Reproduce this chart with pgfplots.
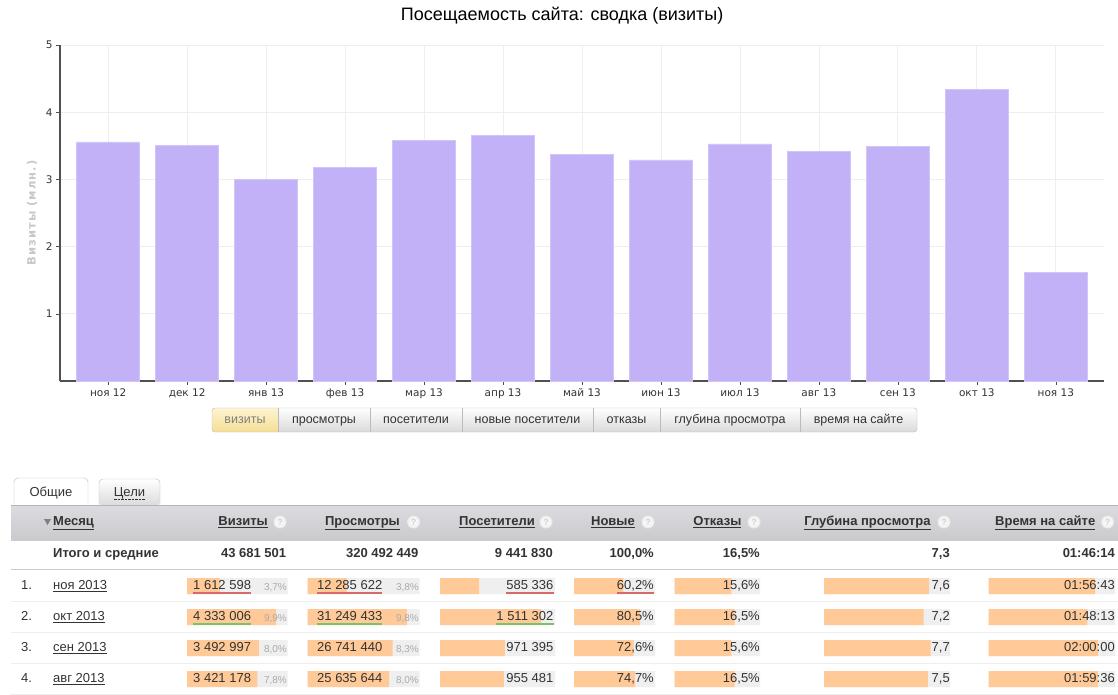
\documentclass[border=0pt]{standalone}
\usepackage{pgfplots}
\pgfplotsset{compat=1.18}
\usepackage{fontspec}
\setmainfont{Liberation Sans}
\newfontfamily\dejavu{DejaVu Sans}
\newfontfamily\dejavuwide[LetterSpace=9]{DejaVu Sans}

\definecolor{barc}{HTML}{C3B1F8}
\definecolor{baredge}{HTML}{D2C5FA}
\definecolor{gridc}{HTML}{EEEEEE}
\definecolor{axisc}{HTML}{505050}
\definecolor{tickc}{HTML}{333333}
\definecolor{ylab}{HTML}{C8C8C8}
\definecolor{txt}{HTML}{333333}
\definecolor{btnline}{HTML}{BBBBBB}
\definecolor{btnbot}{HTML}{DADADA}
\definecolor{seltop}{HTML}{FDF4D2}
\definecolor{selbot}{HTML}{F5DE94}
\definecolor{hdrtop}{HTML}{DCDCE0}
\definecolor{hdrbot}{HTML}{CACACE}
\definecolor{hdrline}{HTML}{B4B4BC}
\definecolor{cellbg}{HTML}{EFEFEF}
\definecolor{cellor}{HTML}{FFCA98}
\definecolor{redu}{HTML}{D66A6A}
\definecolor{greenu}{HTML}{7CC26C}
\definecolor{pctc}{HTML}{AAAAAA}

\newcommand\fs[1]{\fontsize{#1bp}{#1bp}\selectfont}

\pgfplotsset{
  cellax/.style={anchor=north west, scale only axis, height=124bp,
    xbar, bar shift=0pt, bar width=16bp, xmin=0, ymin=0.5, ymax=4.5,
    y dir=reverse, hide axis, clip=false,
    every axis plot/.append style={draw=none}},
}
% x0, width, xmax, values of rows 1-4
\newcommand\cellaxis[4]{%
\begin{axis}[cellax, at={(#1bp,-570.5bp)}, width=#2bp, xmax=#3]
\addplot[fill=cellbg] coordinates {(#3,1) (#3,2) (#3,3) (#3,4)};
\addplot[fill=cellor] coordinates {#4};
\end{axis}}

\begin{document}
\begin{tikzpicture}
\fill[white] (0,0) rectangle (1118bp,-695bp);
\path[use as bounding box] (0,0) rectangle (1118bp,-695bp);

\begin{axis}[
  at={(60bp,-381bp)}, anchor=south west,
  scale only axis, width=1044bp, height=336bp,
  ybar, bar width=0.8, bar shift=0pt,
  xmin=-0.61, xmax=12.61, ymin=0, ymax=5,
  xtick={0,...,12},
  xticklabels={ноя 12,дек 12,янв 13,фев 13,мар 13,апр 13,май 13,июн 13,июл 13,авг 13,сен 13,окт 13,ноя 13},
  ytick={1,2,3,4,5},
  grid=major, grid style={draw=gridc, line width=0.8bp},
  axis x line*=bottom, axis y line*=left,
  axis line style={draw=axisc, line width=1.1bp, -},
  tick style={draw=axisc, line width=0.6bp},
  major tick length=4bp, tick align=outside,
  ticklabel style={font=\dejavu\fs{10.5}, text=tickc},
  /pgf/number format/assume math mode=true,
  ylabel={Визиты (млн.)},
  ylabel style={at={(axis description cs:-0.0268,0.5)}, anchor=center,
    font=\dejavuwide\bfseries\fs{11.5}, text=ylab},
  title={Посещаемость сайта: сводка (визиты)},
  title style={at={(axis description cs:0.481,1.068)}, anchor=center,
    font=\fs{18}, text=black},
]
\addplot[fill=barc, draw=baredge, line width=0.8bp] coordinates {
  (0,3.557) (1,3.506) (2,2.996) (3,3.180) (4,3.586) (5,3.650) (6,3.368)
  (7,3.289) (8,3.527) (9,3.421) (10,3.493) (11,4.333) (12,1.613)};
\end{axis}

% cell bars of the table
\cellaxis{187}{100.5}{4.88}{(1.613,1) (4.333,2) (3.493,3) (3.421,4)}
\cellaxis{307.5}{112}{35.2}{(12.286,1) (31.249,2) (26.741,3) (25.636,4)}
\cellaxis{440}{115}{1.72}{(0.585,1) (1.511,2) (0.971,3) (0.955,4)}
\cellaxis{574}{81}{98.8}{(60.2,1) (80.5,2) (72.6,3) (74.7,4)}
\cellaxis{674.5}{85.5}{23.5}{(15.6,1) (16.5,2) (15.6,3) (16.5,4)}
\cellaxis{824}{126}{9.1}{(7.6,1) (7.2,2) (7.7,3) (7.5,4)}
\cellaxis{988.6}{126.5}{138.5}{(116.72,1) (108.22,2) (120,3) (119.6,4)}

\begin{scope}[x=1bp, y=-1bp, t/.style={inner sep=0pt, text height=0.716em, text depth=0pt, text=txt}]
% switch buttons
\begin{scope}
\clip[rounded corners=3bp] (212,408) rectangle (917,432);
\shade[top color=seltop, bottom color=selbot] (212,408) rectangle (278,432);
\shade[top color=white, bottom color=btnbot] (278,408) rectangle (917,432);
\end{scope}
\draw[btnline, rounded corners=3bp] (212,408) rectangle (917,432);
\foreach \xx in {278,370,462,593,660,800} \draw[btnline] (\xx,408) -- (\xx,432);
\begin{scope}[every node/.style={t, font=\fs{12.5}}]
\node[text=gray] at (245,420) {визиты};
\node at (324,420) {просмотры};
\node at (416,420) {посетители};
\node at (527.5,420) {новые посетители};
\node at (626.5,420) {отказы};
\node at (730,420) {глубина просмотра};
\node at (858.5,420) {время на сайте};
\end{scope}

% tabs
\shade[top color=white, bottom color=btnbot, rounded corners=4bp] (99,506) -- (99,479) -- (160,479) -- (160,506) -- cycle;
\draw[btnline, rounded corners=4bp] (99,506) -- (99,479) -- (160,479) -- (160,506);
\fill[white, rounded corners=4bp] (14,506) -- (14,478) -- (88,478) -- (88,506) -- cycle;
\draw[btnline, rounded corners=4bp] (14,506) -- (14,478) -- (88,478) -- (88,506);
\node[t, font=\fs{13}] at (51,493) {Общие};
\node[t, font=\fs{13}] (goal) at (129.5,493) {Цели};
\draw[txt, densely dotted] ([yshift=-2.5]goal.south west) -- ([yshift=-2.5]goal.south east);

% header band
\shade[top color=hdrtop, bottom color=hdrbot] (11,505) rectangle (1118,540);
\draw[hdrline, line width=1bp] (11,505) -- (1118,505);
\fill[gray] (44,519) -- (51,519) -- (47.5,525) -- cycle;
\begin{scope}[every node/.style={t, font=\bfseries\fs{13}}]
\node[anchor=west] at (53,522) {\underline{Месяц}};
\node[anchor=east] at (268,522) {\underline{Визиты}};
\node[anchor=east] at (400,522) {\underline{Просмотры}};
\node[anchor=east] at (535,522) {\underline{Посетители}};
\node[anchor=east] at (635,522) {\underline{Новые}};
\node[anchor=east] at (741.6,522) {\underline{Отказы}};
\node[anchor=east] at (930.7,522) {\underline{Глубина просмотра}};
\node[anchor=east] at (1095.5,522) {\underline{Время на сайте}};
\end{scope}
\foreach \xx in {280,413.6,546,648,754,944,1107.6} {
  \fill[white!85!gray] (\xx,522) circle (6.5);
  \fill[white!93!gray] (\xx,522) circle (5.2);
  \node[t, font=\bfseries\fs{9}, text=white!65!gray] at (\xx,522) {?};
}

% totals
\begin{scope}[every node/.style={t, font=\bfseries\fs{13}, anchor=east}]
\node[anchor=west] at (53,554) {Итого и средние};
\node at (286.4,554) {43 681 501};
\node at (418.6,554) {320 492 449};
\node at (553,554) {9 441 830};
\node at (654,554) {100,0\%};
\node at (760,554) {16,5\%};
\node at (950,554) {7,3};
\node at (1115,554) {01:46:14};
\end{scope}
\draw[hdrline!70!white, line width=1.5bp] (11,569.5) -- (1118,569.5);
\foreach \yy in {601,632,663,694} \draw[gridc, line width=1bp] (11,\yy) -- (1118,\yy);

% rows
\begin{scope}[every node/.style={t, font=\fs{13}}]
\foreach \yy/\n/\m in {586/1/ноя, 617/2/окт, 648/3/сен, 679/4/авг} {
  \node[anchor=west] at (21,\yy) {\n.};
  \node[anchor=west] at (53,\yy) {\underline{\m\ 2013}};
}
\node[anchor=west] (v1) at (193,586) {1 612 598};
\node[anchor=west] (v2) at (193,617) {4 333 006};
\node[anchor=west] at (193,648) {3 492 997};
\node[anchor=west] at (193,679) {3 421 178};
\node[anchor=west] (p1) at (317,586) {12 285 622};
\node[anchor=west] (p2) at (317,617) {31 249 433};
\node[anchor=west] at (317,648) {26 741 440};
\node[anchor=west] at (317,679) {25 635 644};
\node[anchor=east] (u1) at (553.5,586) {585 336};
\node[anchor=east] (u2) at (553.5,617) {1 511 302};
\node[anchor=east] at (553.5,648) {971 395};
\node[anchor=east] at (553.5,679) {955 481};
\node[anchor=east] (n1) at (654,586) {60,2\%};
\node[anchor=east] at (654,617) {80,5\%};
\node[anchor=east] at (654,648) {72,6\%};
\node[anchor=east] at (654,679) {74,7\%};
\node[anchor=east] at (760,586) {15,6\%};
\node[anchor=east] at (760,617) {16,5\%};
\node[anchor=east] at (760,648) {15,6\%};
\node[anchor=east] at (760,679) {16,5\%};
\node[anchor=east] at (950,586) {7,6};
\node[anchor=east] at (950,617) {7,2};
\node[anchor=east] at (950,648) {7,7};
\node[anchor=east] at (950,679) {7,5};
\node[anchor=east] at (1115,586) {01:56:43};
\node[anchor=east] at (1115,617) {01:48:13};
\node[anchor=east] at (1115,648) {02:00:00};
\node[anchor=east] at (1115,679) {01:59:36};
\end{scope}
\begin{scope}[every node/.style={t, font=\fs{10}, text=pctc, anchor=east}]
\node at (287,587) {3,7\%};
\node at (287,618) {9,9\%};
\node at (287,649) {8,0\%};
\node at (287,680) {7,8\%};
\node at (419,587) {3,8\%};
\node at (419,618) {9,8\%};
\node at (419,649) {8,3\%};
\node at (419,680) {8,0\%};
\end{scope}
\foreach \nd in {v1,p1,u1,n1}
  \draw[redu, line width=1.6bp] ([yshift=-3.5]\nd.south west) -- ([yshift=-3.5]\nd.south east);
\foreach \nd in {v2,p2,u2}
  \draw[greenu, line width=1.6bp] ([yshift=-3.5]\nd.south west) -- ([yshift=-3.5]\nd.south east);
\end{scope}
\end{tikzpicture}
\end{document}
